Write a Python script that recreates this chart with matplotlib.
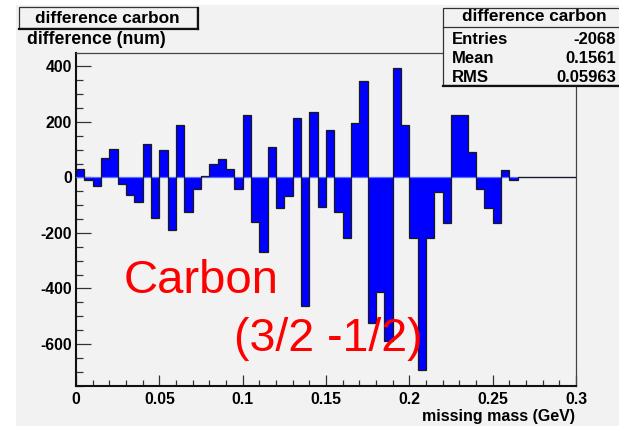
import numpy as np
import matplotlib
matplotlib.use("Agg")
import matplotlib.pyplot as plt
from matplotlib.patches import Rectangle
from matplotlib.lines import Line2D
from matplotlib.ticker import MultipleLocator, FuncFormatter

# Histogram: 60 bins of 0.005 GeV between 0 and 0.3
x_min, x_max, n_bins = 0.0, 0.3, 60
counts = [30, -11, -31, 71, 101, -25, -63, -90, 119, -147,
          97, -190, 189, -126, -43, 5, 47, 65, 29, -43,
          224, -161, -270, 108, -111, -68, 214, -464, 237, -108,
          169, -125, -219, 196, 347, -525, -412, -588, 395, 189,
          -218, -695, -218, -52, -163, 224, 224, 92, -43, -111,
          -163, 25, -11, 0, 0, 0, 0, 0, 0, 0]
y_limits = (-750, 449)

hist_title = "difference carbon"
y_title = "difference (num)"
x_title = "missing mass (GeV)"
stat_names = ["Entries", "Mean", "RMS"]
stat_values = ["-2068", "0.1561", "0.05963"]
note_lines = ["Carbon", "(3/2 -1/2)"]

W, H = 619, 426
fig = plt.figure(figsize=(W / 100, H / 100), dpi=100)
fig.patch.set_facecolor("white")

def fx(px):
    return px / W

def fy(py):
    return 1 - py / H

FONT = "Liberation Sans"
BG = "#f2f2f2"

# canvas pad
fig.patches.append(Rectangle((fx(16), 0), 1 - fx(16), fy(5), transform=fig.transFigure,
                             facecolor=BG, edgecolor="none", zorder=-10))

ax = fig.add_axes([fx(76), fy(385.7), fx(576) - fx(76), fy(52.7) - fy(385.7)])
ax.set_facecolor(BG)

edges = np.linspace(x_min, x_max, n_bins + 1)
ax.stairs(counts, edges, baseline=0, fill=True, color="#0000ff", zorder=2)
ax.axhline(0, color="#5b6dff", lw=0.9, zorder=3)
ax.stairs(counts, edges, baseline=None, color="#1a1a1a", lw=0.9, zorder=4)

ax.set_xlim(x_min, x_max)
ax.set_ylim(*y_limits)

ax.xaxis.set_major_locator(MultipleLocator(0.05))
ax.xaxis.set_minor_locator(MultipleLocator(0.01))
ax.yaxis.set_major_locator(MultipleLocator(200))
ax.yaxis.set_minor_locator(MultipleLocator(50))
ax.xaxis.set_major_formatter(FuncFormatter(lambda v, p: "%g" % round(v, 3)))
ax.yaxis.set_major_formatter(FuncFormatter(lambda v, p: "%d" % round(v)))

ax.tick_params(axis="x", which="major", direction="in", length=11.4 * 0.72, width=0.9,
               pad=4.5, top=False, color="#333333")
ax.tick_params(axis="x", which="minor", direction="in", length=6 * 0.72, width=0.9,
               top=False, color="#333333")
ax.tick_params(axis="y", which="major", direction="in", length=15 * 0.72, width=0.9,
               pad=3, right=False, color="#333333")
ax.tick_params(axis="y", which="minor", direction="in", length=7 * 0.72, width=0.9,
               right=False, color="#333333")
for lab in ax.get_xticklabels() + ax.get_yticklabels():
    lab.set_fontfamily(FONT)
    lab.set_fontweight("bold")
    lab.set_fontsize(11.4)

for side in ("left", "bottom"):
    ax.spines[side].set_linewidth(1.5)
    ax.spines[side].set_color("#111111")
for side in ("top", "right"):
    ax.spines[side].set_linewidth(0.9)
    ax.spines[side].set_color("#444444")

fig.text(fx(575), fy(416), x_title, ha="right", va="center", fontsize=11.5,
         fontweight="bold", family=FONT)
fig.text(fx(27), fy(40), y_title, ha="left", va="center", fontsize=12.7,
         fontweight="bold", family=FONT)

# title box
fig.patches.append(Rectangle((fx(18.5), fy(28.3)), fx(197.3) - fx(18.5), fy(7.3) - fy(28.3),
                             transform=fig.transFigure, facecolor=BG, edgecolor="#333333",
                             lw=0.9, zorder=5))
fig.lines.append(Line2D([fx(19), fx(198)], [fy(28.5), fy(28.5)], transform=fig.transFigure,
                        color="#111111", lw=1.6, zorder=6))
fig.lines.append(Line2D([fx(198), fx(198)], [fy(28.5), fy(8)], transform=fig.transFigure,
                        color="#111111", lw=1.6, zorder=6))
fig.text(fx(107), fy(18.3), hist_title, ha="center", va="center", fontsize=12.4,
         family=FONT, fontweight="semibold", zorder=7)

# statistics box
fig.patches.append(Rectangle((fx(442.7), fy(85)), 1.02 - fx(442.7), fy(8) - fy(85),
                             transform=fig.transFigure, facecolor=BG, edgecolor="#333333",
                             lw=0.9, zorder=5, clip_on=False))
fig.lines.append(Line2D([fx(443), 1], [fy(26.7), fy(26.7)], transform=fig.transFigure,
                        color="#333333", lw=0.9, zorder=6))
fig.lines.append(Line2D([fx(443), 1], [fy(85.5), fy(85.5)], transform=fig.transFigure,
                        color="#111111", lw=1.6, zorder=6))
fig.text(fx(534), fy(16.7), hist_title, ha="center", va="center", fontsize=12.4,
         family=FONT, fontweight="semibold", zorder=7)
for i, (name, val) in enumerate(zip(stat_names, stat_values)):
    yy = fy(39 + 19.5 * i)
    fig.text(fx(451.7), yy, name, ha="left", va="center", fontsize=12,
             fontweight="bold", family=FONT, zorder=7)
    fig.text(fx(616), yy, val, ha="right", va="center", fontsize=12,
             fontweight="bold", family=FONT, zorder=7)

# annotation
fig.text(fx(124), fy(293), note_lines[0], ha="left", va="baseline", fontsize=34,
         color="#ff0000", family=FONT, zorder=8)
fig.text(fx(234), fy(351), note_lines[1], ha="left", va="baseline", fontsize=33.5,
         color="#ff0000", family=FONT, zorder=8)

fig.savefig("out.png", dpi=100, facecolor=fig.get_facecolor())
